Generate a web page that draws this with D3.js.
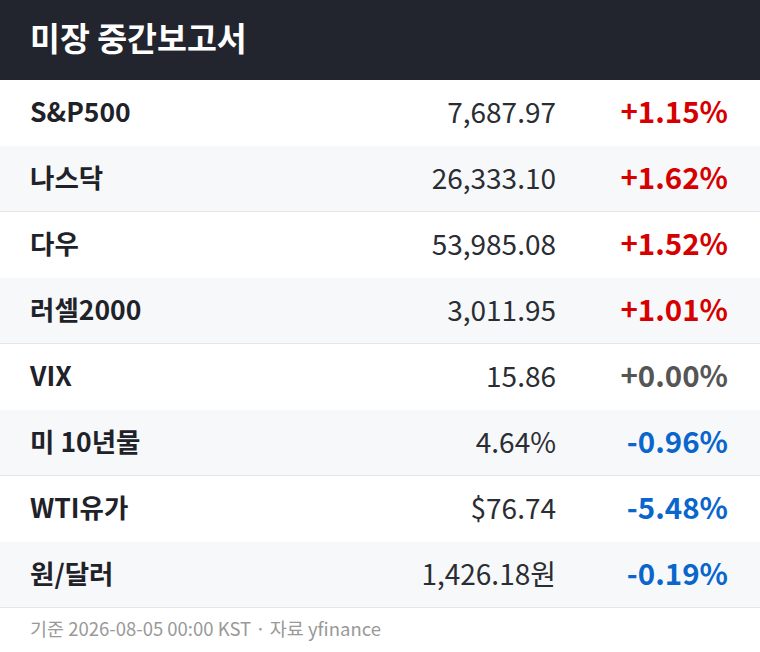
<!DOCTYPE html>
<html>
<head>
<meta charset="utf-8">
<script src="https://cdn.jsdelivr.net/npm/d3@7"></script>
<style>
  html, body { margin: 0; padding: 0; background: #fff; }
  svg { display: block; font-family: "Noto Sans CJK KR", "Noto Sans", sans-serif; }
</style>
</head>
<body>
<div id="report"></div>
<script>
var width = 760;
var height = 652;
var headerHeight = 80;
var rowHeight = 66;

var title = '미장 중간보고서';
var footnote = '기준 2026-08-05 00:00 KST · 자료 yfinance';

var names = ['S&P500', '나스닥', '다우', '러셀2000', 'VIX', '미 10년물', 'WTI유가', '원/달러'];
var prices = [7687.97, 26333.10, 53985.08, 3011.95, 15.86, 4.64, 76.74, 1426.18];
var prefixes = ['', '', '', '', '', '', '$', ''];
var suffixes = ['', '', '', '', '', '%', '', '원'];
var changes = [1.15, 1.62, 1.52, 1.01, 0.00, -0.96, -5.48, -0.19];

var locale = d3.formatLocale({decimal: '.', thousands: ',', grouping: [3], currency: ['$', ''], minus: '-'});
var fmtPrice = locale.format(',.2f');
var fmtChange = locale.format('+.2f');

var rows = names.map((n, i) => ({
    name: n,
    price: prefixes[i] + fmtPrice(prices[i]) + suffixes[i],
    change: changes[i]
}));

var colorUp = '#d60000';
var colorDown = '#0a66cc';
var colorFlat = '#555555';

var changeColor = (v) => v > 0 ? colorUp : (v < 0 ? colorDown : colorFlat);

var svg = d3.select('#report')
    .append('svg')
    .attr('width', width)
    .attr('height', height);

svg.append('rect')
    .attr('width', width)
    .attr('height', height)
    .attr('fill', '#ffffff');

// header bar
svg.append('rect')
    .attr('width', width)
    .attr('height', headerHeight)
    .attr('fill', '#22252d');

svg.append('text')
    .attr('x', 30)
    .attr('y', headerHeight / 2)
    .attr('dy', '0.35em')
    .attr('fill', '#ffffff')
    .attr('font-size', 32.5)
    .attr('font-weight', 700)
    .text(title);

var y = d3.scaleBand()
    .domain(d3.range(rows.length))
    .range([headerHeight, headerHeight + rowHeight * rows.length])
    .padding(0);

var row = svg.selectAll('g.row')
    .data(rows)
    .enter()
    .append('g')
    .attr('class', 'row')
    .attr('transform', (d, i) => `translate(0, ${y(i)})`);

row.append('rect')
    .attr('width', width)
    .attr('height', y.bandwidth())
    .attr('fill', (d, i) => i % 2 ? '#f7f8fa' : '#ffffff');

row.filter((d, i) => i % 2 == 1)
    .append('rect')
    .attr('y', y.bandwidth() - 1)
    .attr('width', width)
    .attr('height', 1)
    .attr('fill', '#e3e5e8');

row.append('text')
    .attr('x', 30)
    .attr('y', y.bandwidth() / 2)
    .attr('dy', '0.35em')
    .attr('fill', '#1f2229')
    .attr('font-size', 26.5)
    .attr('font-weight', 700)
    .text((d) => d.name);

row.append('text')
    .attr('x', 556)
    .attr('y', y.bandwidth() / 2)
    .attr('dy', '0.35em')
    .attr('text-anchor', 'end')
    .attr('fill', '#2a2d33')
    .attr('font-size', 28)
    .attr('font-weight', 400)
    .text((d) => d.price);

row.append('text')
    .attr('x', 728)
    .attr('y', y.bandwidth() / 2)
    .attr('dy', '0.35em')
    .attr('text-anchor', 'end')
    .attr('fill', (d) => changeColor(d.change))
    .attr('font-size', 29.5)
    .attr('font-weight', 700)
    .text((d) => fmtChange(d.change) + '%');

svg.append('text')
    .attr('x', 30)
    .attr('y', headerHeight + rowHeight * rows.length + 22)
    .attr('dy', '0.35em')
    .attr('fill', '#999999')
    .attr('font-size', 18.5)
    .text(footnote);
</script>
</body>
</html>
